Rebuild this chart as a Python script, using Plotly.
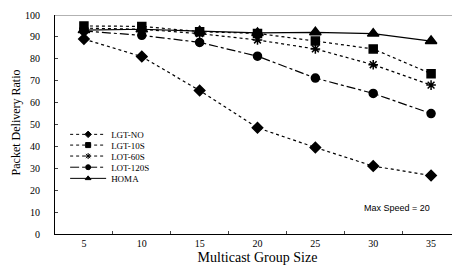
import plotly.graph_objects as go

group_size = ["5", "10", "15", "20", "25", "30", "35"]
lgt_no = [89, 81, 65.5, 48.5, 39.5, 31, 26.7]
lgt_10s = [95, 94.8, 92.4, 91.6, 88.1, 84.5, 73.2]
lgt_60s = [94, 93.5, 91.5, 88.6, 84.5, 77.3, 68]
lgt_120s = [92.7, 90.7, 87.5, 81.2, 71.2, 64.2, 55]
homa = [93.1, 93.5, 92.6, 91.8, 92.1, 91.5, 88.1]
series_names = ["LGT-NO", "LGT-10S", "LOT-60S", "LOT-120S", "HOMA"]

styles = [
    ("dot", "diamond", 8),
    ("dot", "square", 8),
    ("dot", "asterisk-open", 8),
    ("dashdot", "circle", 8),
    ("solid", "triangle-up", 10),
]
values = [lgt_no, lgt_10s, lgt_60s, lgt_120s, homa]
legend_rows = [0.455, 0.406, 0.356, 0.305, 0.254]

fig = go.Figure()
for i, (name, vals, (dash, sym, size)) in enumerate(zip(series_names, values, styles)):
    fig.add_trace(go.Scatter(
        x=group_size, y=vals, name=name, mode="lines+markers", showlegend=False,
        line=dict(color="black", width=1.2, dash=dash),
        marker=dict(symbol=sym, size=size, color="black",
                    line=dict(color="black", width=1.5)),
    ))
    lg = "legend" if i == 0 else f"legend{i+1}"
    fig.add_trace(go.Scatter(
        x=[None], y=[None], name=name, mode="lines+markers", showlegend=True,
        legend=lg,
        line=dict(color="black", width=1, dash=dash),
        marker=dict(symbol=sym, size=5, color="black",
                    line=dict(color="black", width=1)),
    ))

serif = "Liberation Serif, Times New Roman, serif"
legend_kw = {}
for i, yy in enumerate(legend_rows):
    key = "legend" if i == 0 else f"legend{i+1}"
    legend_kw[key] = dict(x=0.025, y=yy, xanchor="left", yanchor="middle",
                          font=dict(family=serif, size=9),
                          bgcolor="rgba(0,0,0,0)", itemwidth=36)

# page body has an 8px default margin, so the figure is 8px smaller
fig.update_layout(
    width=452, height=261,
    margin=dict(l=47, r=0, t=7, b=35),
    paper_bgcolor="white", plot_bgcolor="white",
    font=dict(family=serif, color="black", size=10),
    showlegend=True,
    xaxis=dict(type="category", range=[-0.5, 6.5], showgrid=False,
               showline=True, linecolor="black", linewidth=1.2,
               ticks="inside", ticklen=3, tickson="boundaries",
               tickfont=dict(size=10), automargin=False,
               title=dict(text="Multicast Group Size", font=dict(size=14), standoff=4)),
    yaxis=dict(range=[0, 100], dtick=10, showgrid=False, zeroline=False,
               showline=True, linecolor="black", linewidth=1.2,
               ticks="inside", ticklen=3, tickfont=dict(size=10),
               ticklabelstandoff=12, automargin=False),
    shapes=[dict(type="line", xref="paper", yref="y", x0=0, x1=1, y0=100, y1=100,
                 line=dict(color="#999999", width=1.5), layer="below")],
    annotations=[
        dict(text="Max Speed = 20", xref="paper", yref="y",
             x=0.758, y=12, xanchor="left", yanchor="middle", showarrow=False,
             font=dict(family="Liberation Sans, Arial, sans-serif", size=9)),
        dict(text="Packet Delivery Ratio", xref="paper", yref="paper",
             x=-0.096, y=0.51, xanchor="center", yanchor="middle", textangle=-90,
             showarrow=False, font=dict(family=serif, size=12)),
    ],
    **legend_kw,
)

fig.write_html("out.html")
